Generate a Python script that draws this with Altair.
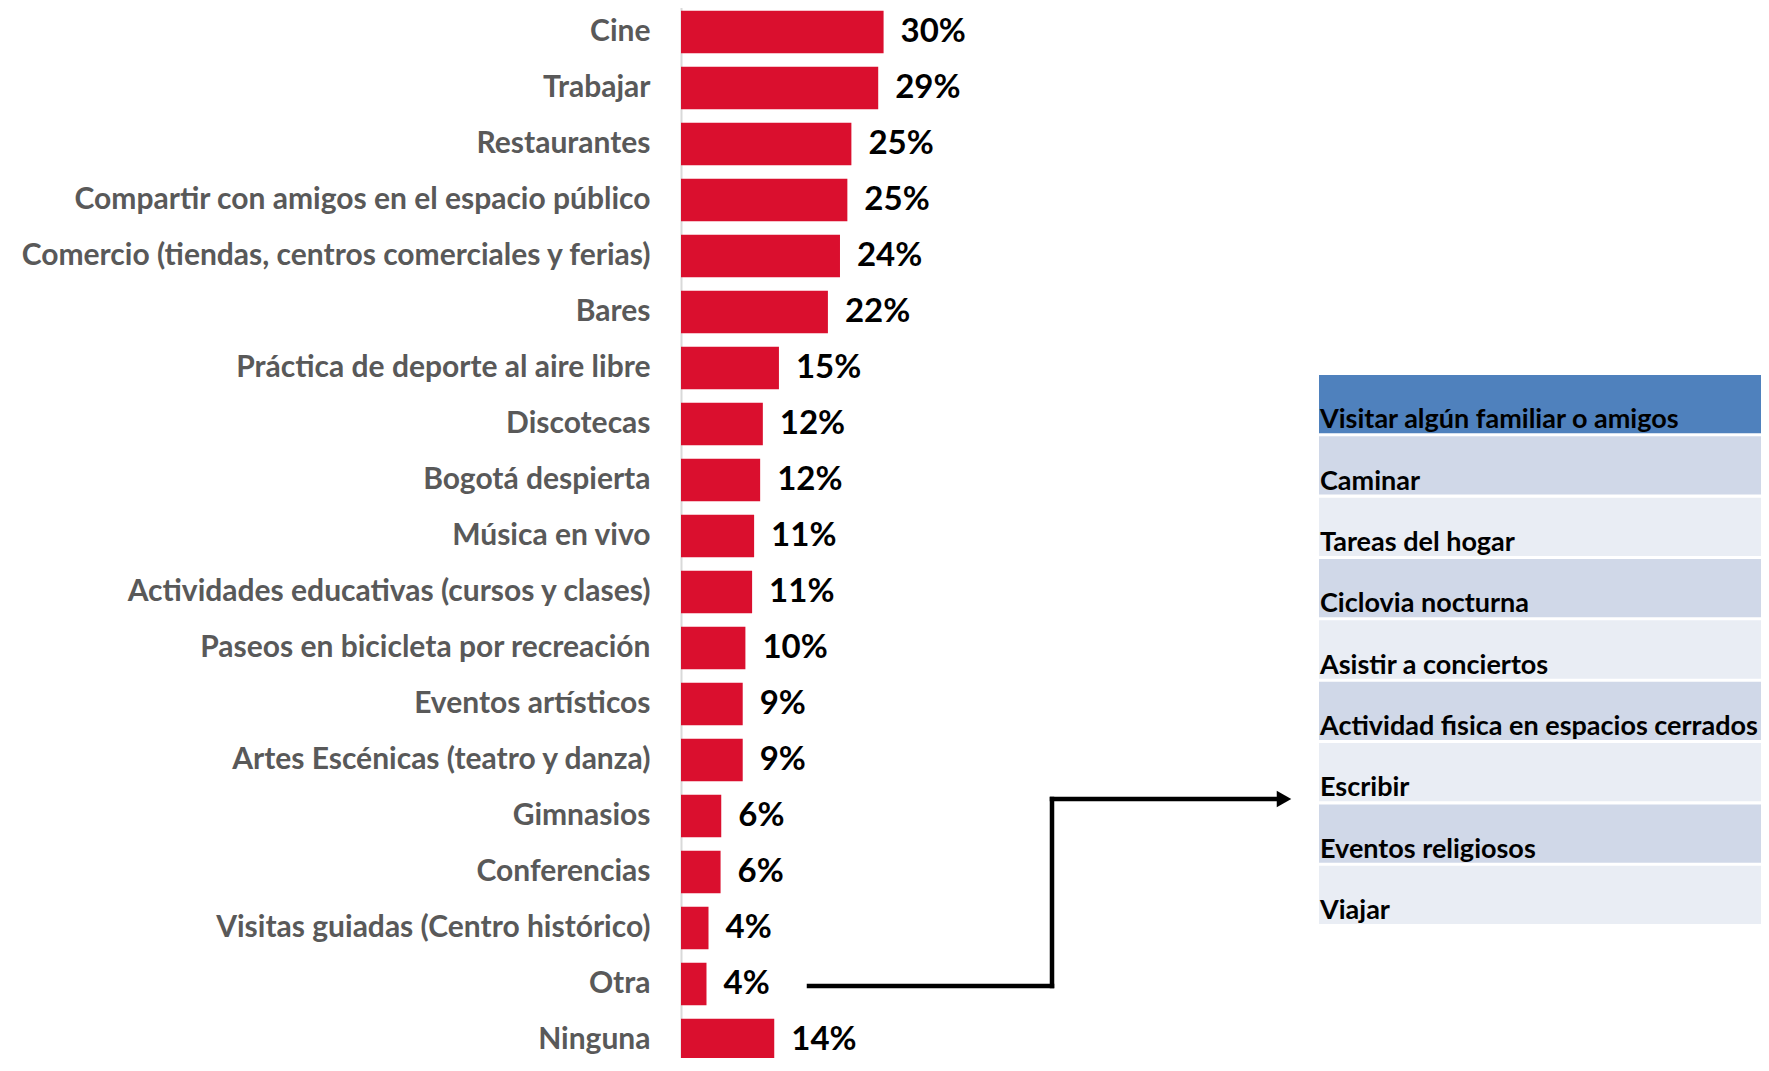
import altair as alt
import pandas as pd

categorias = [
    "Cine", "Trabajar", "Restaurantes",
    "Compartir con amigos en el espacio público",
    "Comercio (tiendas, centros comerciales y ferias)",
    "Bares", "Práctica de deporte al aire libre", "Discotecas",
    "Bogotá despierta", "Música en vivo",
    "Actividades educativas (cursos y clases)",
    "Paseos en bicicleta por recreación", "Eventos artísticos",
    "Artes Escénicas (teatro y danza)", "Gimnasios", "Conferencias",
    "Visitas guiadas (Centro histórico)", "Otra", "Ninguna",
]
porcentajes = [30.2, 29.4, 25.4, 24.8, 23.7, 21.9, 14.6, 12.2, 11.8, 10.9,
               10.6, 9.6, 9.2, 9.2, 6.0, 5.9, 4.1, 3.8, 13.9]

otras = [
    "Visitar algún familiar o amigos", "Caminar", "Tareas del hogar",
    "Ciclovia nocturna", "Asistir a conciertos",
    "Actividad fisica en espacios cerrados", "Escribir",
    "Eventos religiosos", "Viajar",
]

df = pd.DataFrame({"cat": categorias, "v": porcentajes})
df_otras = pd.DataFrame({"item": otras})

FONT = "Lato"

y_bar = alt.Y(
    "cat:N", sort=categorias, title=None,
    scale=alt.Scale(range=[-4, 1060], paddingInner=0.24, paddingOuter=0.12),
    axis=alt.Axis(
        ticks=False, labelPadding=31, labelFont=FONT, labelFontSize=30,
        labelFontWeight="bold", labelColor="#595959", labelLimit=900,
        domainColor="#D9D9D9", domainWidth=2, grid=False,
    ),
)
x_bar = alt.X("v:Q", scale=alt.Scale(domain=[0, 161], nice=False, zero=True), axis=None)

bars = alt.Chart(df).mark_bar(color="#DA0F2E").encode(y=y_bar, x=x_bar)
labels = (
    alt.Chart(df)
    .transform_calculate(t="format(datum.v, '.0f') + '%'")
    .mark_text(align="left", baseline="middle", dx=17, font=FONT,
               fontSize=33, fontWeight="bold", color="black")
    .encode(y=y_bar, x=x_bar, text="t:N")
)
bar_layer = alt.layer(bars, labels)

y_tab_scale = alt.Scale(range=[367, 916], paddingInner=0.05, paddingOuter=0)
base_tab = (
    alt.Chart(df_otras)
    .transform_window(rn="row_number()")
    .transform_calculate(
        fill="datum.rn == 1 ? '#4F81BD' : (datum.rn % 2 == 0 ? '#D0D8E8' : '#E9EDF4')"
    )
)
tab_rect = base_tab.mark_rect().encode(
    y=alt.Y("item:N", sort=otras, scale=y_tab_scale, axis=None),
    x=alt.value(638), x2=alt.value(1080),
    color=alt.Color("fill:N", scale=None),
)
tab_text = base_tab.mark_text(
    align="left", baseline="alphabetic", dy=-5, font=FONT,
    fontSize=27, fontWeight="bold", color="black",
).encode(
    y=alt.Y("item:N", sort=otras, scale=y_tab_scale, axis=None, bandPosition=1),
    x=alt.value(639),
    text="item:N",
)
tab_layer = alt.layer(tab_rect, tab_text)

one = alt.Data(values=[{"a": 1}])
rule_style = dict(color="black", strokeWidth=4.5, strokeCap="square")
arrow_h1 = alt.Chart(one).mark_rule(**rule_style).encode(
    x=alt.value(128), x2=alt.value(371), y=alt.value(978))
arrow_v = alt.Chart(one).mark_rule(**rule_style).encode(
    x=alt.value(371), y=alt.value(791), y2=alt.value(978))
arrow_h2 = alt.Chart(one).mark_rule(**rule_style).encode(
    x=alt.value(371), x2=alt.value(598), y=alt.value(791))
arrow_head = alt.Chart(one).mark_point(
    shape="triangle-right", filled=True, size=280, color="black", opacity=1
).encode(x=alt.value(603), y=alt.value(791))

chart = (
    alt.layer(bar_layer, tab_layer, arrow_h1, arrow_v, arrow_h2, arrow_head)
    .resolve_scale(y="independent", x="independent", color="independent")
    .properties(
        width=1080, height=1050,
        padding={"left": 673, "top": 0, "right": 0, "bottom": 0},
        autosize=alt.AutoSizeParams(type="none"),
        background="white",
    )
    .configure_view(strokeWidth=0)
)

chart.save("out.html", embed_options={"renderer": "svg", "actions": False})
